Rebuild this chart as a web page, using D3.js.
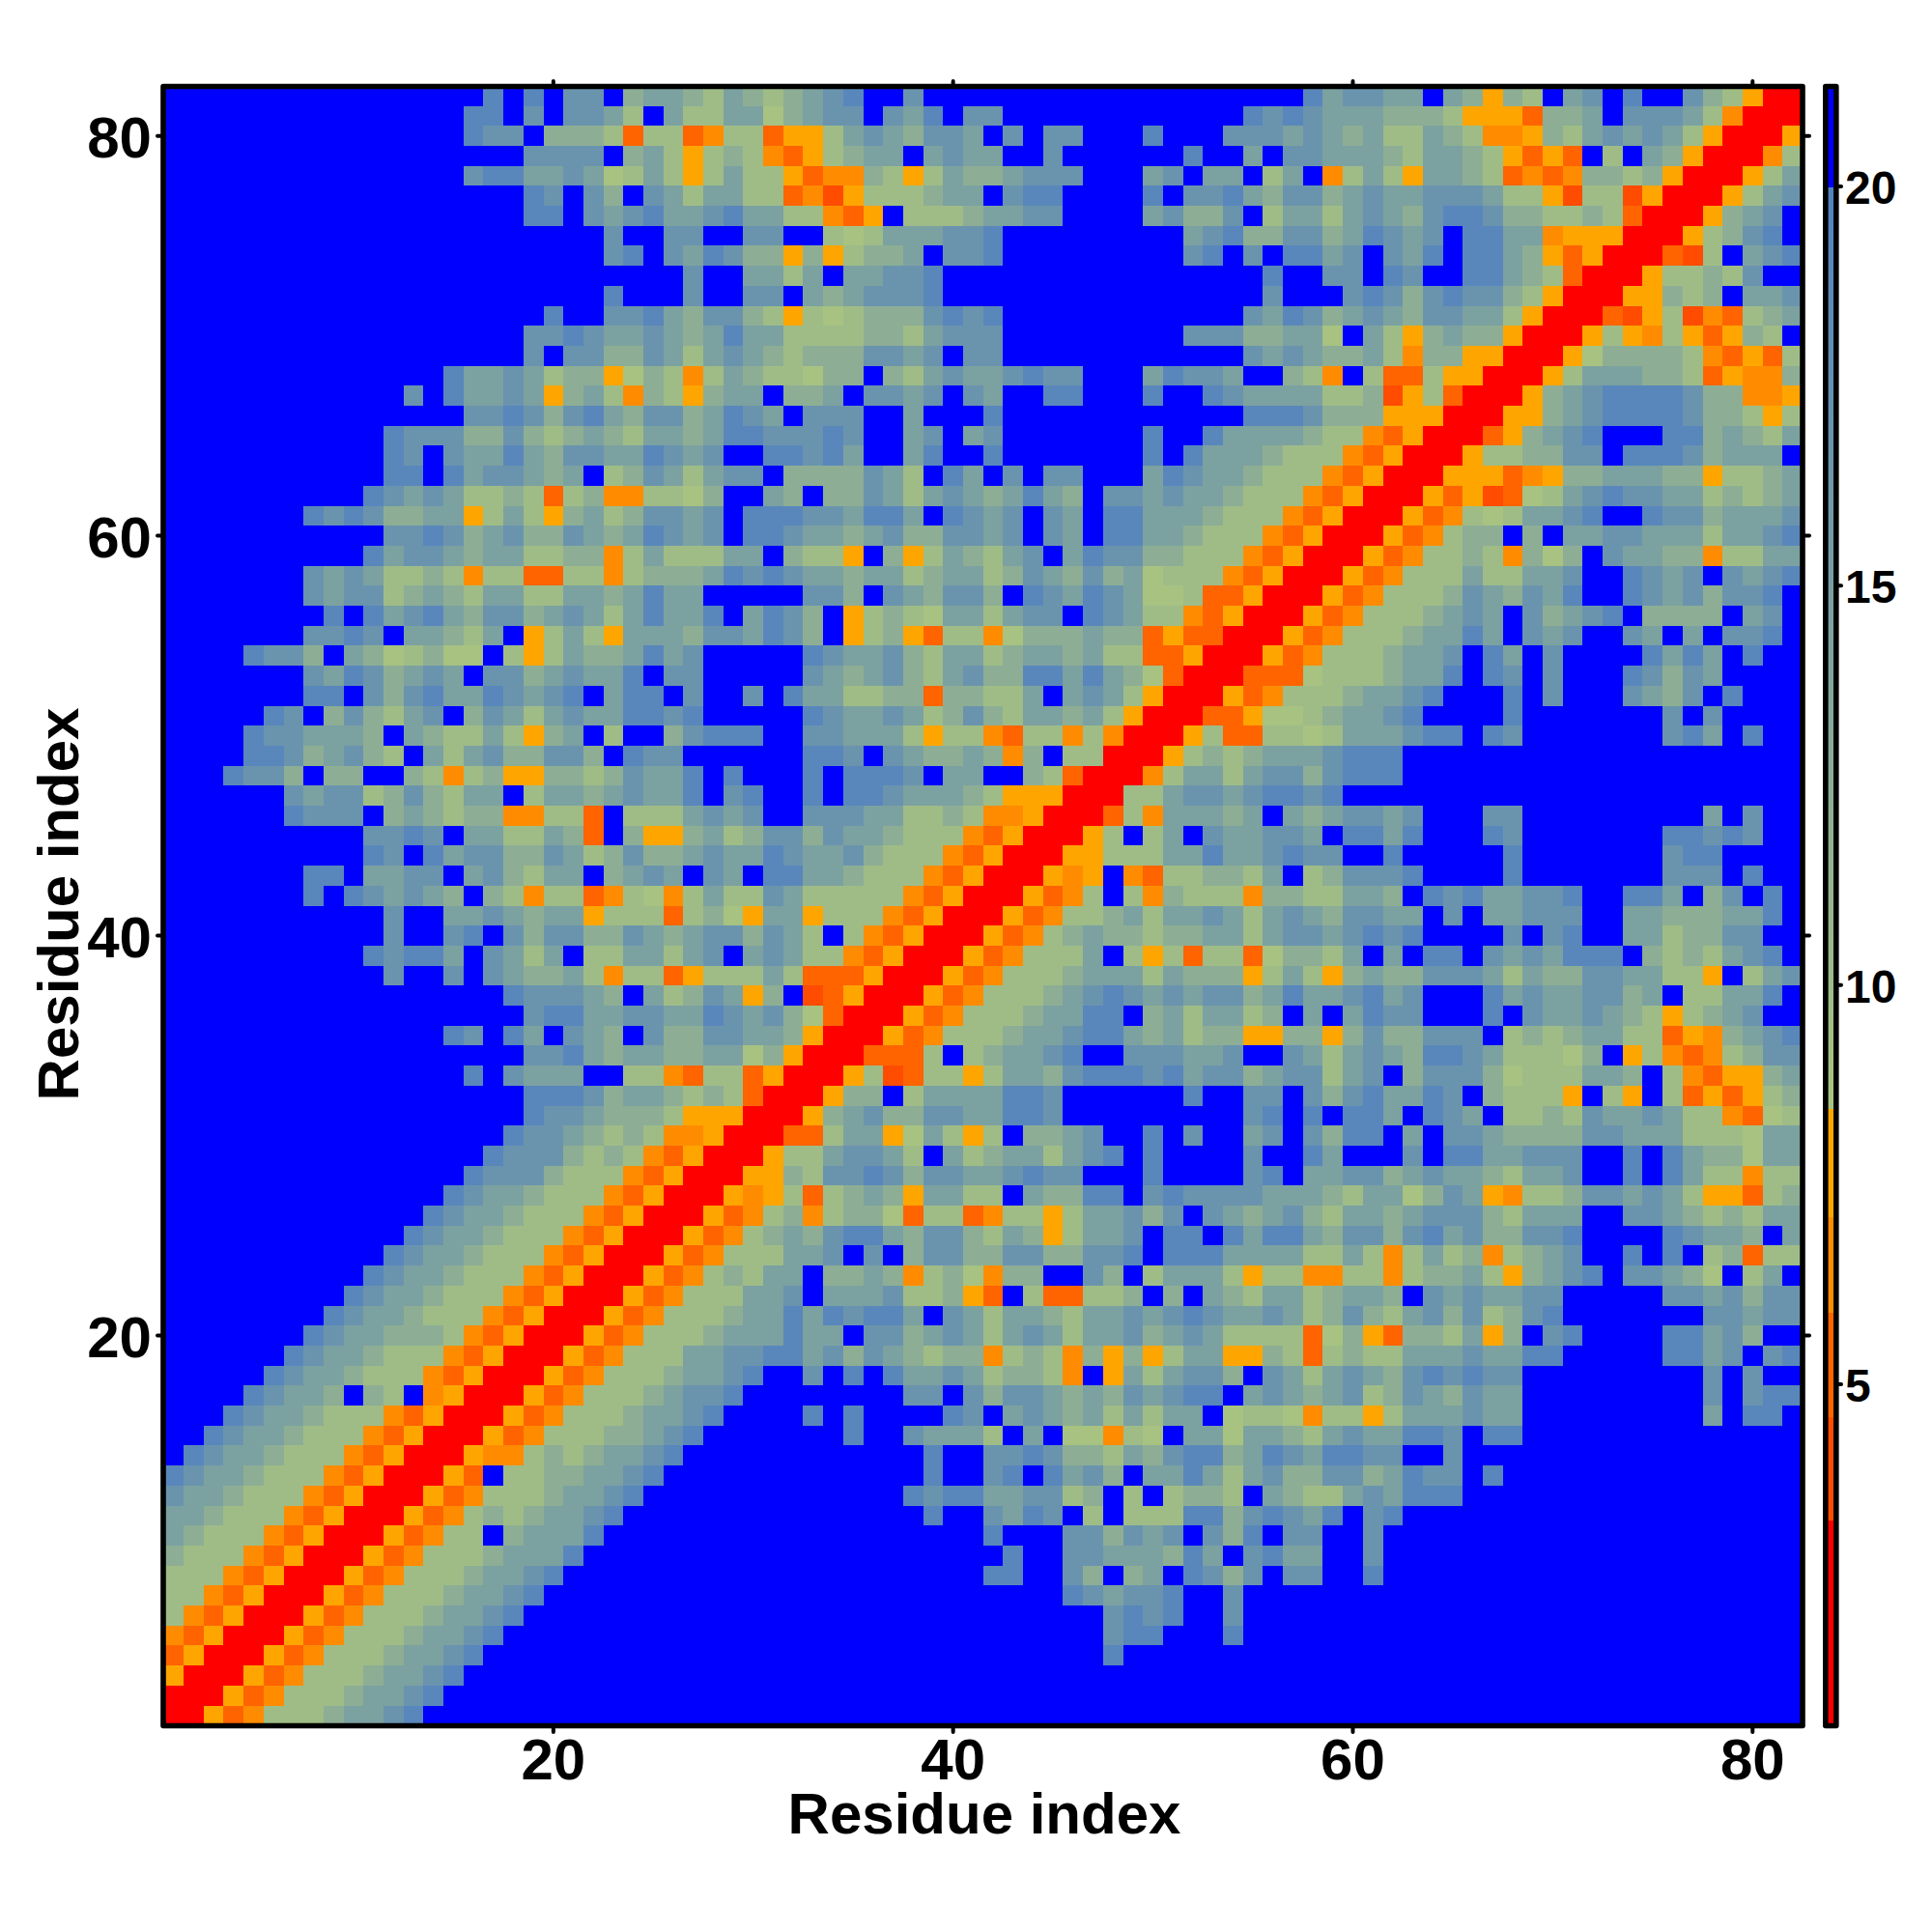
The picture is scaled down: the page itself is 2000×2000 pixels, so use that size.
<!DOCTYPE html>
<html><head><meta charset="utf-8"><style>html,body{margin:0;padding:0;background:#fff}svg{display:block}text{font-family:"Liberation Sans",Arial,sans-serif;font-weight:700;fill:#000}</style>
<script src="https://cdn.jsdelivr.net/npm/d3@7/dist/d3.min.js"></script></head><body><script>
// Each row: residues 1-26 | 27-55 | 56-82, listed from residue 82 down to residue 1.
const matrixRows = [
"................1.1.22.433|453454321..2.................|..132233.34o45.32.1..245orr",
"...............11.2.2235.3|553364322.231.22............1|2123334445ooon443.22235drrr",
"...............122.4445n55|nd55noo53234223.2.22...1...22|23234355345ddo45323235orrro",
"..................2222.435|o545dno5433.3233..2......1..3|.22333453345onon.5.34orrrd5",
"...............21133236535|o5355ondd45o53443222...32.33.|53.d535o3345ndnd4454orrro53",
"..................12.24.23|53355ndmo555433.211....1.2213|42243233222355om55morrro532",
"..................11.23213|3213355dno.55543322....32442.|533532342112445545nrrro432.",
"......................2..2|2..22..565333221.........3214|422431232.1133dooorrro5421.",
"......................21.2|31244o4o5443.221.........21.2|.1132.231.1134onorrrnm5.321",
"..........................|2..3353.33221................|1..22.12..11345nrrro55452..",
"......................1...|2..22.3432221................|2...2124212245orrroo454.332",
"...................1..2213|42245o5654442121............2|3124323422335orrrnmo5mdn543",
"..................22123323|4313355554453222.........2224|4336.35o4344orrro5od5ono45.",
"..................2.224423|5323454442232.22............2|3234435d44oorrro644445dnon5",
"..............13323544o645|d53455644.4532332122...31223.|.45d.5nn5oorrro5333445nodd4",
"............2.13323o435d45|o433.443.2232.23..11...1..123|333554mo5nrrro4321111244ddo",
"...............22124213422|43123.222..3...1............1|112444ooorrroo43211112445o5",
"...........122244245434533|431122212..32.32.......1..133|33455dnorrrno4321...1143453",
"...........12.233134223312|32..11213..31..1.......1.1333|4555dnorrro554422.11124333.",
"...........11.1322343.5423|5322.4444235.13.2.22...312334|555dnorrrooondo4433344o5543",
"..........123235545n54dd55|64..34.4423532343134.22323345|55dnorrronomn65321223354543",
".......12124433o535o435422|32.111223113.1232.23.11333455|5dnorrrond5653321..12243332",
"...........221243244234312|32.11233432442232.23.11334555|dnorrrond544.4.332233353321",
"..........132234335544d535|5533.455o.4o534532.312244555d|norrrond5545d464.23344d5533",
".......23235545d55nn55d544|431212334335433542342436555dn|orrrond555355332..1232.2321",
".......2322543453355334313|3.....224.234224.123123665nno|rrrond5554234231..12324221.",
"........1.1321342243235313|31.3124.o5456335322.12355dnor|rrond5554323.24321.4444.32.",
".......2212.33453.o535o333|4223124.o54on55d6444344nonnrr|rond55543313.232..23.3.221.",
"....1224.3465466.5o5344313|2.....12332453354334355nnorrr|ond5554332.13.2....1313.1..",
".......23124323.22432331.2|2.....234324532441131346nrrrn|nn65554331.12.2...12423....",
".......11.24213312321.311.|2..2.1335544n44553.3235orrron|d55543321...1.2...2342.1...",
".....12.424532.42353233112|1.....1233235424533435orrrnno|66543321....1.......2.2....",
"....1223334.345535o43.5..4|2111..223335o55dn55d5drrro5nn|5565333211.12.......213.1..",
"....11243245.353244224.122|......112.234434d4.55rrro5454|3332111....................",
"...1224.44..45d54oo4454233|1.1...1.1112.33..45nrrrd53353|2242111....................",
"......23225424533.53343233|1.21..1.11233345ooorrr5532232|1121.......................",
"......1222.434544dd55n.555|3232..222335545ddorrrn5d33343|.3432232...22.........3.2..",
"..........2212.335534n.4oo|43542242334555dnorrro5.53.233|223.1131...12.......11212..",
"..........12.1322442354244|3233123324555dnorrroo55533133|2122..1.....1.......211....",
".......11.3322.324533.4323|.23.11334555dnorrrodo.dn55445|3.542221....1.......222.1..",
".......1.123234.45d55nd56d|53552355555dnorrrond5.5d4555d|4455334.12133221..113.42.1.",
"...........2..3323433o555n|546o33o555dnorrrond5543533235|32342233.2.33222..33444331.",
"...........2..21.242244234|3224235.5dnorrrond54344544335|32232121....2.21..3354422..",
"..........12113.2353.55335|32.32355dnorrrond5553.5o5n55n|64453.3.11.2323111.4545321.",
"...........2..2.234435d55n|o55535nnnorrrond555433353444o|535o434422235344223355o.532",
".................122234.35|423o4.mnorrrond55543212323224|31332132...132332243.55331.",
"..................21133223|3123246nrrrond55543311.435335|4.3.3122...1.2332345o5432..",
"..............12.13.234.24|422334orrrond555433211343544o|o44o4244222.54543355nod4321",
"..................22134334|43364orrrnnn5.543321..222332.|.2353234112355564.o5dnd5422",
"...............1.2333..55d|n55norrro5mn55o53342111213224|322532.422246555334.5dnoo43",
"..................11124334|545nrrro44.53333112......1..2|2.24213312.4555o.5o.5nono54",
"..................12234445|ooorrro432442233112.........2|1.1.113.123.55452332355dn65",
".................12234545d|dorrrnn533o635o5.4432..1.2..3|2.2411.3.223444422333555633",
"................12224545dn|orrro5532235.354335321.1....2|..13...2.1133222..1.1344633",
"...............12224555dno|rrroo452212422332122...1....2|1.33224323345332..1.1355d55",
"..............12334555dnor|rrodo5n5434o3355.34411.212222|33345336423od554223235oon54",
".............12334555dnorr|rond54d5446n55nd55o533242.234|3245334322245333..223454533",
"............12334555dnorrr|ond543421134224534o5332.11.13|1134224213244221....12334.3",
"...........12334555dnorrro|nd555332.2.422442244221.11133|335535d5354d5432..1.1.54n55",
"..........12334555dnorrron|d54533.4434d546d44..24.53335o|55dd55d54435o4321.22346.53.",
".........12334555dnorrrond|555332.3332554on.5nn554.4.345|3354334.2323322.....2232422",
"........12334555dnorrrond5|554331312113.2353345332321233|235424532425421.......22322",
".......12334445dnorrrond55|54333133.22432353235332432355|55n64on4453o4.21....11324..",
"......12334555dnorrrond555|332211324234544d545d4o4o533oo|45n545533323311.....1132.21",
".....12334555dnorrrond5554|3321..2.1.133235445d.o353224.|2353234212122.........2.2..",
"....12334.45.dorrrond55543|221........22.2422343423211.3|2343254234233.........2.211",
"...12334555dnorrrond555433|21....1.1....12.3234353533.65|56d55o5333233.........3.11.",
"..12334555dnorrrond5554432|1.......1..23335.3.66d56.3363|3453233112.11..............",
".12334555dnorrrodd54543321|............1..22124453421143|1231122..2.................",
"12334555dnorrron.55443321.|............1..21.1324.331353|2442243122.1...............",
"2334555dnorrrond55543321..|...........1211332254.5.5445.|3455323111.................",
"334555dnorrrond54543321...|............1..2312.5.5551142|1231.21....................",
"34555dnorrrond55.43331....|...............1...224232.241|.22..2.....................",
"4555dnorrrond55543331.....|................1..22333413.2|133..2.....................",
"555dnorrrond55543321......|...............11..24.43.1242|.22..1.....................",
"55dnorrrond55543321.......|...................123221..2.|...........................",
"5dnorrrond55543321........|.....................2121..2.|...........................",
"dnorrrond55543321.........|.....................211...1.|...........................",
"norrrond55543321..........|.....................1.......|...........................",
"orrrond55543321...........|.............................|...........................",
"rrrond55543321............|.............................|...........................",
"rrond55543321.............|.............................|..........................."
];
const levelCodes = [".","1","2","3","4","5","6","o","d","n","m","r"];
const levelValues = [21,19.1,16.8,14.5,12.2,9.9,8.8,7.6,6.5,5.2,4,2];
const xTicks = [20,40,60,80];
const yTicks = [20,40,60,80];
const barTicks = [5,10,15,20];
const axisTitle = "Residue index";

const W=2000,H=2000;
const svg=d3.select("body").append("svg").attr("width",W).attr("height",H);
const x=d3.scaleLinear().domain([0.5,82.5]).range([169.4,1866]);
const y=d3.scaleLinear().domain([0.5,82.5]).range([1786.2,88.9]);
const bar=d3.scaleLinear().domain([5,20]).range([1433,193]);
const steel=d3.scaleLinear().domain([8.43,20]).range(["#aac47f","#5282c0"]);
const warm=d3.scaleThreshold().domain([3.3,4.6,5.9,7.1]).range(["#ff0000","#ff4c00","#ff6400","#ff8c00","#ffa500"]);
const color=v=>v>=20?"#0000ff":v>=8.43?steel(v):warm(v);
const lookup=new Map(levelCodes.map((c,i)=>[c,levelValues[i]]));
const cells=[];
matrixRows.forEach((row,ri)=>{
  const s=row.split("|").join("");
  for(let c=0;c<s.length;c++) cells.push({col:c+1,res:82-ri,v:lookup.get(s[c])});
});
svg.append("g").attr("shape-rendering","crispEdges").selectAll("rect").data(cells).join("rect")
 .attr("x",d=>x(d.col-0.5)).attr("y",d=>y(d.res+0.5))
 .attr("width",d=>x(d.col+0.5)-x(d.col-0.5)+0.5).attr("height",d=>y(d.res-0.5)-y(d.res+0.5)+0.5)
 .attr("fill",d=>color(d.v));
const frame=(x0,y0,x1,y1,w)=>svg.append("rect").attr("x",x0).attr("y",y0).attr("width",x1-x0).attr("height",y1-y0)
 .attr("fill","none").attr("stroke","#000").attr("stroke-width",w).attr("stroke-linejoin","round");
frame(169,89.5,1866,1786.5,5.6);
const tick=(a,b,c,d)=>svg.append("line").attr("x1",a).attr("y1",b).attr("x2",c).attr("y2",d).attr("stroke","#000").attr("stroke-width",4).attr("stroke-linecap","round");
xTicks.forEach(t=>{tick(x(t),84,x(t),90);tick(x(t),1786,x(t),1793);
 svg.append("text").attr("x",x(t)).attr("y",1842).attr("text-anchor","middle").attr("font-size",60).text(t);});
yTicks.forEach(t=>{tick(163,y(t),170,y(t));tick(1866,y(t),1873,y(t));
 svg.append("text").attr("x",157).attr("y",y(t)+22.5).attr("text-anchor","end").attr("font-size",60).text(t);});
svg.append("text").attr("x",1019).attr("y",1898).attr("text-anchor","middle").attr("font-size",60).text(axisTitle);
svg.append("text").attr("transform","translate(81,936) rotate(-90)").attr("text-anchor","middle").attr("font-size",60).text(axisTitle);
// colour bar
const barVals=d3.range(0.7,21.3,0.05);
svg.append("g").attr("shape-rendering","crispEdges").selectAll("rect").data(barVals).join("rect")
 .attr("x",1889).attr("width",12).attr("y",d=>bar(d+0.05)).attr("height",d=>bar(d)-bar(d+0.05)+0.6).attr("fill",d=>color(d+0.025));
svg.append("rect").attr("x",1880).attr("y",60).attr("width",40).attr("height",27).attr("fill","#fff");
svg.append("rect").attr("x",1880).attr("y",1789).attr("width",40).attr("height",25).attr("fill","#fff");
frame(1889.8,89.5,1900.8,1786.5,5.6);
barTicks.forEach(t=>{tick(1902,bar(t),1906,bar(t));
 svg.append("text").attr("x",1910).attr("y",bar(t)+18).attr("font-size",48).text(t);});
</script></body></html>
